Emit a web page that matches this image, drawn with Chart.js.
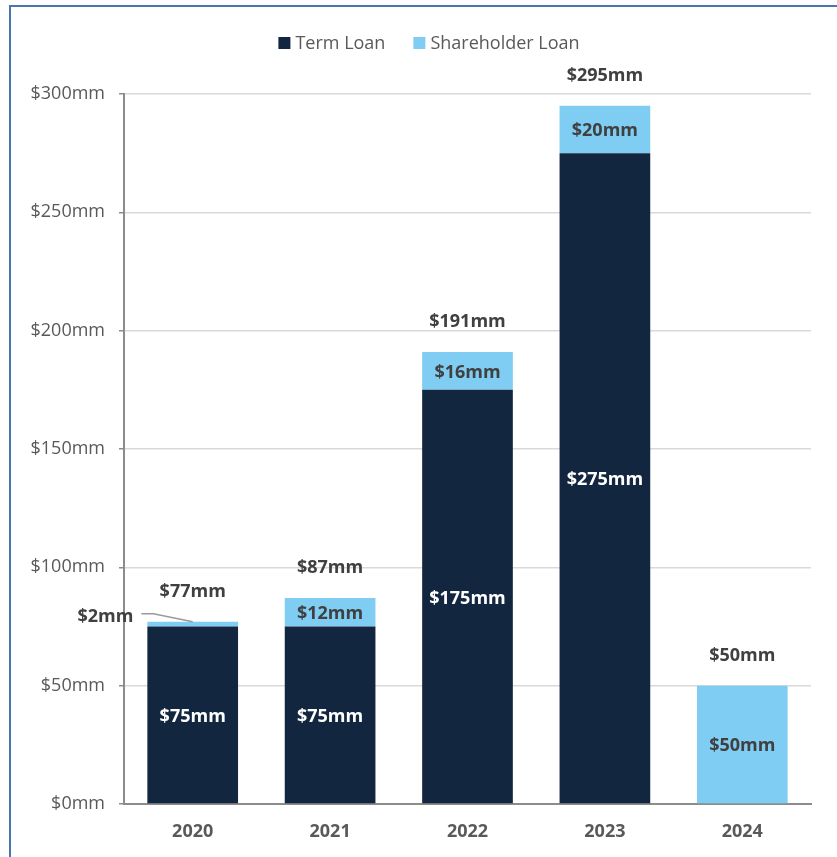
<!DOCTYPE html>
<html>
<head>
<meta charset="utf-8">
<script src="https://cdn.jsdelivr.net/npm/chart.js@4"></script>
<style>
  html, body { margin:0; padding:0; background:#fff; width:837px; height:857px; overflow:hidden; }
  #frame { position:absolute; left:9px; top:5px; width:900px; height:900px; border:2px solid #4a76b0; box-sizing:border-box; }
  #wrap { position:absolute; left:0; top:0; width:837px; height:857px; }
</style>
</head>
<body>
<div id="frame"></div>
<div id="wrap"><canvas id="c" width="837" height="857"></canvas></div>
<script>
const categories = ["2020", "2021", "2022", "2023", "2024"];
const termLoan = [75, 75, 175, 275, 0];
const shareholderLoan = [2, 12, 16, 20, 50];
const totals = [77, 87, 191, 295, 50];
const seriesNames = ["Term Loan", "Shareholder Loan"];
const yTicks = [0, 50, 100, 150, 200, 250, 300];

const NAVY = "#12263f";
const LIGHT = "#7fcdf3";
const FONT = "'Open Sans', sans-serif";
const fmt = v => "$" + v + "mm";

const labelPlugin = {
  id: "labels",
  afterDatasetsDraw(chart) {
    const ctx = chart.ctx;
    ctx.save();
    ctx.textAlign = "center";
    ctx.textBaseline = "middle";
    ctx.font = "bold 18px " + FONT;
    const m0 = chart.getDatasetMeta(0), m1 = chart.getDatasetMeta(1);
    categories.forEach((c, i) => {
      const b0 = m0.data[i], b1 = m1.data[i];
      if (termLoan[i] > 0) {
        ctx.fillStyle = "#ffffff";
        ctx.fillText(fmt(termLoan[i]), b0.x, (b0.y + b0.base) / 2 + 2);
      }
      if (shareholderLoan[i] > 0) {
        ctx.fillStyle = "#404040";
        if (b1.base - b1.y >= 20) {
          ctx.fillText(fmt(shareholderLoan[i]), b1.x, (b1.y + b1.base) / 2 + 1.5);
        } else {
          const left = b1.x - b1.width / 2;
          ctx.textAlign = "right";
          ctx.fillText(fmt(shareholderLoan[i]), left - 14, b1.y - 5);
          ctx.textAlign = "center";
          ctx.strokeStyle = "#9a9a9a";
          ctx.lineWidth = 1.5;
          ctx.beginPath();
          ctx.moveTo(left - 6, b1.y - 8);
          ctx.lineTo(left + 6, b1.y - 8);
          ctx.lineTo(b1.x, b1.y);
          ctx.stroke();
        }
      }
      ctx.fillStyle = "#404040";
      const top = Math.min(b0.y, b1.y);
      ctx.fillText(fmt(totals[i]), b0.x, top - 30);
    });
    // legend
    ctx.font = "18px " + FONT;
    ctx.textAlign = "left";
    const colors = [NAVY, LIGHT];
    const widths = seriesNames.map(n => ctx.measureText(n).width);
    const gap = 28;
    const total = widths.reduce((a, w) => a + 12 + 5 + w, 0) + gap * (seriesNames.length - 1);
    let x = 429 - total / 2;
    const y = 43;
    seriesNames.forEach((n, k) => {
      ctx.fillStyle = colors[k];
      ctx.fillRect(x, y - 6, 12, 12);
      ctx.fillStyle = "#595959";
      ctx.fillText(n, x + 17, y + 1);
      x += 12 + 5 + widths[k] + gap;
    });
    ctx.restore();
  }
};

new Chart(document.getElementById("c"), {
  type: "bar",
  data: {
    labels: categories,
    datasets: [
      { label: seriesNames[0], data: termLoan, backgroundColor: NAVY, borderWidth: 0 },
      { label: seriesNames[1], data: shareholderLoan, backgroundColor: LIGHT, borderWidth: 0 }
    ]
  },
  options: {
    responsive: false,
    animation: false,
    devicePixelRatio: 1,
    layout: { padding: { left: 0, right: 26, top: 94, bottom: 0 } },
    plugins: { legend: { display: false }, tooltip: { enabled: false } },
    datasets: { bar: { categoryPercentage: 1, barPercentage: 0.66 } },
    scales: {
      x: {
        stacked: true,
        grid: { display: false, drawTicks: false },
        border: { display: true, color: "#8c8c8c", width: 2 },
        ticks: { color: "#595959", font: { family: FONT, size: 18, weight: "bold" }, padding: 17 },
        afterFit(s) { s.height = 53; }
      },
      y: {
        stacked: true,
        min: 0, max: 300,
        afterBuildTicks(s) { s.ticks = yTicks.map(v => ({ value: v })); },
        grid: { color: "#d9d9d9", lineWidth: 1.5, tickColor: "#8c8c8c", tickLength: 5, tickWidth: 1.5, drawTicks: true },
        border: { display: true, color: "#8c8c8c", width: 2 },
        ticks: { color: "#595959", font: { family: FONT, size: 18 }, padding: 14, callback: v => fmt(v) },
        afterFit(s) { s.width = 124; }
      }
    }
  },
  plugins: [labelPlugin]
});
</script>
</body>
</html>
